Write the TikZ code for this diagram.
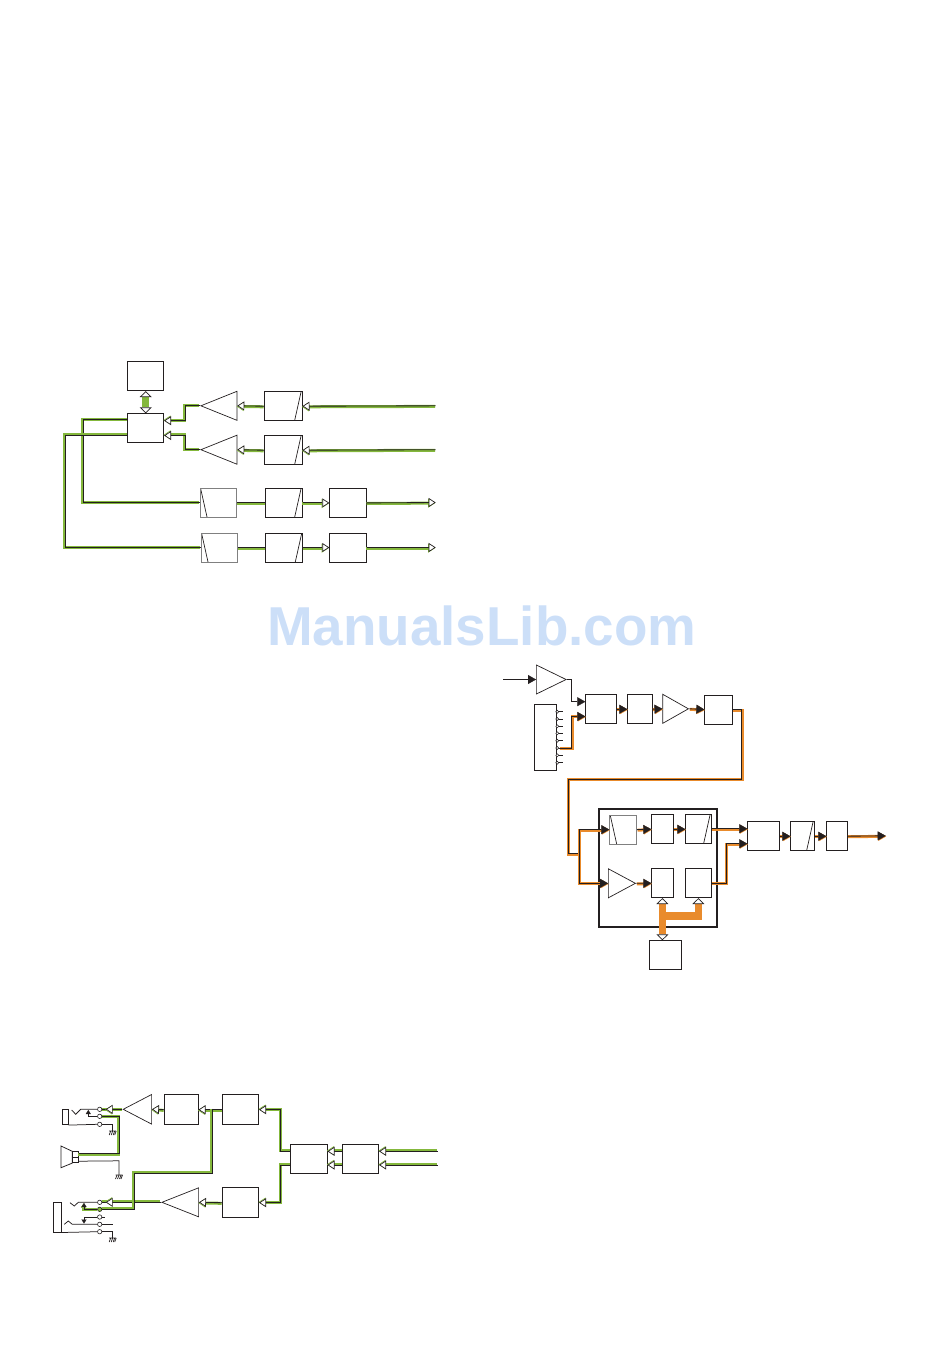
\documentclass[tikz,border=0pt]{standalone}
\usepackage{fontspec}
\usepackage{xcolor}
\usepackage{tikz}
\usetikzlibrary{calc,arrows.meta,shapes.geometric}
\setmainfont{Liberation Sans}
\definecolor{bkline}{HTML}{231F20}
\definecolor{wgreen}{HTML}{84B83C}
\definecolor{worange}{HTML}{E98B2C}
\definecolor{wmark}{HTML}{CCDFF8}
\tikzset{
  opn/.tip={Triangle[fill=white,length=7pt,width=9pt,line width=.7pt]},
  sld/.tip={Triangle[length=8pt,width=9pt,line width=.2pt]},
  sml/.tip={Triangle[length=4pt,width=5pt,line width=.2pt]},
  fat/.tip={Triangle[fill=white,color=bkline,length=6pt,width=12pt,line width=.7pt]},
  gndmark/.pic={\draw[line width=.7pt,bkline] (-3.5,0) -- (3.5,0) (-2,0) -- (-3.5,4) (0,0) -- (-1.5,4) (2,0) -- (.5,4) (3.5,0) -- (2,4);}
}
\begin{document}
\begin{tikzpicture}[x=1pt,y=-1pt,
  sb/.style={draw=bkline,line width=.8pt,inner sep=0pt,anchor=north west,minimum height=29pt,minimum width=#1pt},
  lpf/.style={sb=#1,path picture={\draw[bkline,line width=.7pt] ([xshift=-7.5pt]path picture bounding box.south east) -- ([xshift=-1pt]path picture bounding box.north east);}},
  hpf/.style={sb=#1,draw=gray,path picture={\draw[bkline,line width=.7pt] ([xshift=.5pt]path picture bounding box.north west) -- ([xshift=7pt]path picture bounding box.south west);}},
  ampl/.style={draw=bkline,line width=.7pt,isosceles triangle,isosceles triangle stretches,shape border rotate=180,inner sep=0pt,minimum width=29pt,minimum height=36pt,anchor=apex},
  ampr/.style={draw=bkline,line width=.7pt,isosceles triangle,isosceles triangle stretches,inner sep=0pt,minimum width=29pt,minimum height=#1pt,anchor=apex},
  ctpin/.style={circle,draw=bkline,fill=white,line width=.6pt,inner sep=0pt,minimum size=4.4pt},
  smpin/.style={circle,draw=bkline,fill=white,line width=.5pt,inner sep=0pt,minimum size=3pt},
  thn/.style={bkline,line width=.75pt},
  gw/.style={bkline,line width=.85pt,preaction={draw=wgreen,line width=3pt,transform canvas={xshift=-.6pt,yshift=-.6pt}}},
  gt/.style={bkline,line width=.85pt,preaction={draw=wgreen,line width=3pt,transform canvas={xshift=-.6pt,yshift=.6pt}}},
  ow/.style={bkline,line width=.85pt,preaction={draw=worange,line width=3pt,transform canvas={xshift=.5pt,yshift=-.5pt}}}]
\useasboundingbox (0,0) rectangle (950,1360);
\node[font=\fontsize{54.8pt}{60pt}\selectfont\bfseries,text=wmark,inner sep=0pt,anchor=base west] (wm) at (267,645) {ManualsLib.com};
% first block
\node[sb=36] (mem1) at (127.3,361.3) {};\node[sb=36] (dsp1) at (127.3,413.3) {};
\node[ampl] (amp1) at (200,405.8) {};\node[ampl] (amp2) at (200,449.7) {};
\node[lpf=37.4] (lpf1) at (264.3,391.3) {};\node[lpf=37.4] (lpf2) at (264.3,435.3) {};
\node[hpf=36.6] (hpf1) at (199.7,488) {};\node[lpf=36.4] (lpf3) at (265.3,488) {};\node[sb=37] (buf1) at (329.3,488) {};
\node[hpf=36.6] (hpf2) at (200.7,533) {};\node[lpf=37] (lpf4) at (265.3,533) {};\node[sb=36.4] (buf2) at (329.3,532.6) {};
\coordinate (ina) at (435.7,405.8);\coordinate (inb) at (435.7,449.7);\coordinate (outa) at (435.7,502.5);\coordinate (outb) at (435.7,547.5);
\draw[gw,-opn] (ina) -- (lpf1.east);\draw[gw,-opn] (inb) -- (lpf2.east);
\draw[gw,-opn] (lpf1.west) -- (amp1.lower side);\draw[gw,-opn] (lpf2.west) -- (amp2.lower side);
\draw[gt,-opn] (amp1.apex) -- ++(-14.7,0) |- ([yshift=7.5pt]dsp1.east);\draw[gt,-opn] (amp2.apex) -- ++(-14.7,0) |- ([yshift=-7.3pt]dsp1.east);
\draw[wgreen,line width=7pt,{fat}-{fat}] (mem1.south) -- (dsp1.north);
\draw[gt] ([yshift=8.5pt]dsp1.west) -- ++(-44,0) |- (hpf1.west);\draw[gt] ([yshift=-6.9pt]dsp1.west) -- ++(-62.3,0) |- (hpf2.west);
\draw[gw] (hpf1.east) -- (lpf3.west);\draw[gw,-opn] (lpf3.east) -- (buf1.west);\draw[gw,-opn] (buf1.east) -- (outa);
\draw[gw] (hpf2.east) -- (lpf4.west);\draw[gw,-opn] (lpf4.east |- outb) -- (buf2.west |- outb);\draw[gw,-opn] (buf2.east |- outb) -- (outb);
% second block
\coordinate (mic) at (503,679.5);
\node[ampr=29.7] (amp3) at (567,679.5) {};
\node[sb=21.4,minimum height=66pt] (sel) at (534.3,704.3) {};
\foreach \y [count=\i] in {711.7,719,726.3,733.3,740.7,748,755.3,762.7} {\draw[thn] (557.3,\y) -- (563.3,\y);\node[smpin] (s\i) at (557.3,\y) {};}
\node[sb=30.4] (mix) at (585.3,694.3) {};\node[sb=24.4] (vol) at (627.3,694.3) {};
\node[ampr=25.6] (amp4) at (689.3,708.8) {};\node[sb=27.4] (eql) at (704.3,694.6) {};
\node[draw=bkline,line width=1.6pt,inner sep=0pt,minimum width=118pt,minimum height=118pt,anchor=north west] (dev) at (598,808) {};
\node[hpf=27] (hpf5) at (609.3,814.7) {};\node[sb=21.4] (fx1) at (651.3,814.3) {};\node[lpf=25.4] (lpf5) at (685.3,814.3) {};
\node[ampr=27] (amp5) at (636.3,883.3) {};\node[sb=21.4] (fx2) at (651.3,868.3) {};\node[sb=25.4] (dac) at (685.3,868.3) {};
\node[sb=31.4] (sum) at (747.3,821.3) {};\node[lpf=23.4] (lpf6) at (790.3,821.3) {};\node[sb=20.4] (drv) at (826.3,821.3) {};
\node[sb=31.4] (mem2) at (649.3,940.3) {};
\coordinate (lnout) at (885.7,835.8);\coordinate (bnd) at (568,779.3);\coordinate (jn) at (579,853.7);\coordinate (brn) at (662,916);
\coordinate (sua) at ([yshift=7.5pt]sum.west);\coordinate (sub) at ([yshift=-7.5pt]sum.west);
\draw[thn,-sld] (mic) -- (amp3.lower side);\draw[thn,-sld] (amp3.apex) -- ++(4.3,0) |- ([yshift=7.5pt]mix.west);
\draw[ow,-sld] (s6.east) -- (571.7,748) |- ([yshift=-7.2pt]mix.west);
\draw[ow,-sld] (mix.east) -- (vol.west);\draw[ow,-sld] (vol.east) -- (amp4.lower side);\draw[ow,-sld] (amp4.apex) -- (eql.west);
\draw[ow] (eql.east) -- ++(9,0) |- (bnd) |- (jn);
\draw[ow,-sld] (jn) |- (hpf5.west);\draw[ow,-sld] (jn) |- (amp5.lower side);
\draw[ow,-sld] (hpf5.east) -- (fx1.west);\draw[ow,-sld] (fx1.east) -- (lpf5.west);\draw[ow,-sld] (amp5.apex) -- (fx2.west);
\draw[ow,-sld] (lpf5.east |- sua) -- (sua);\draw[ow,-sld] (dac.east) -- ++(14.6,0) |- (sub);
\draw[ow,-sld] (sum.east) -- (lpf6.west);\draw[ow,-sld] (lpf6.east) -- (drv.west);\draw[ow,-sld] (drv.east) -- (lnout);
\draw[worange,line width=7.5pt,{fat}-{fat}] (fx2.south) -- (fx2.south |- mem2.north);
\draw[worange,line width=7.5pt,-{fat}] (fx2.south |- brn) -| (dac.south);
% third block
\node[sb=33.4,minimum height=30pt] (box1) at (164.3,1094.3) {};\node[sb=36,minimum height=30pt] (box2) at (222.3,1094.3) {};
\node[ampl,minimum height=28.4pt,minimum width=29.6pt] (amp6) at (122.3,1109.3) {};
\node[sb=36.4] (box3) at (290.3,1144.3) {};\node[sb=36] (box4) at (342.3,1144.3) {};
\node[ampl,minimum height=36.7pt] (amp7) at (161,1202.3) {};\node[sb=36,minimum height=30pt] (box5) at (222.3,1187.3) {};
\coordinate (inc) at (437.7,1151.3);\coordinate (ind) at (437.7,1165);\coordinate (jx) at (212.3,1109.3);\coordinate (lp) at (134,1173);
\draw[gt,-opn] (inc) -- (inc -| box4.east);\draw[gt,-opn] (ind) -- (ind -| box4.east);
\draw[gt,-opn] (inc -| box4.west) -- (inc -| box3.east);\draw[gt,-opn] (ind -| box4.west) -- (ind -| box3.east);
\draw[gt,-opn] (inc -| box3.west) -- ++(-9.6,0) |- (box2.east);\draw[gt,-opn] (ind -| box3.west) -- ++(-9.6,0) |- (box5.east);
\draw[gw,-opn] (box2.west) -- (box1.east);\draw[gw,-opn] (box1.west) -- (amp6.lower side);\draw[gw,-opn] (box5.west) -- (amp7.lower side);
% jacks and speaker
\node[sb=6,minimum height=15pt] (jk1) at (61.7,1109.3) {};\node[sb=7.4,minimum height=29.4pt] (jk2) at (53.3,1202.3) {};
\node[ctpin] (p1) at (99.7,1109.3) {};\node[ctpin] (p2) at (99.7,1116.3) {};\node[ctpin] (p3) at (99.7,1124.3) {};
\node[ctpin] (q1) at (99.7,1202.3) {};\node[ctpin,fill=wgreen] (q2) at (99.7,1209.3) {};\node[ctpin] (q3) at (99.7,1217) {};\node[ctpin] (q4) at (99.7,1224.3) {};\node[ctpin] (q5) at (99.7,1231.7) {};
\node[sb=5.4,minimum height=11pt] (spk) at (72.3,1151.3) {};
\draw[thn] (61,1146) -- (spk.north west) -- (spk.south west) -- (61,1167.7) -- cycle;
\draw[thn] (spk.west) -- (spk.east);
\draw[gw] (amp6.apex) -- (p1.east);\draw[gw,-opn] (112,1109.3) -- (105.7,1109.3);
\draw[gt] (amp7.apex) -- (q1.east);\draw[gt,-opn] (112,1202.3) -- (105.7,1202.3);
\draw[gt] (jx) |- (lp) |- (q2.east);
\draw[gw,-sml] (q2.west) -| (84,1203);\draw[thn] (71.7,1110) -- (75.7,1114.3) -- (80.7,1109.3) -- (p1.west);
\draw[thn,-sml] (p2.west) -| (88.3,1110);\draw[thn] (jk1.south east) -- (p3.west);
\draw[thn] (p3.east) -- (112.7,1124.3) -- (112.7,1131);\pic at (112.7,1131) {gndmark};
\draw[gw] (p2.east) -- (119,1116.3) |- ([yshift=3.5pt]spk.east);
\draw[thn] ([yshift=-4pt]spk.east) -- (119,1160.8) -- (119,1175);\pic at (119,1175) {gndmark};
\draw[thn] (70,1202.7) -- (74.3,1206) -- (78.3,1202.3) -- (q1.west);
\draw[thn] (64.3,1224.3) -- (68.3,1221) -- (72.3,1224.3) -- (q4.west);
\draw[thn,-sml] (q3.west) -| (84,1223.5);
\draw[thn] (q3.east) -- (105,1217);\draw[thn] (q4.east) -- (112.7,1224.3);
\draw[thn] (jk2.south east) -- (q5.west);\draw[thn] (q5.east) -- (112.7,1231.7) -- (112.7,1238);\pic at (112.7,1238) {gndmark};
\end{tikzpicture}
\end{document}
